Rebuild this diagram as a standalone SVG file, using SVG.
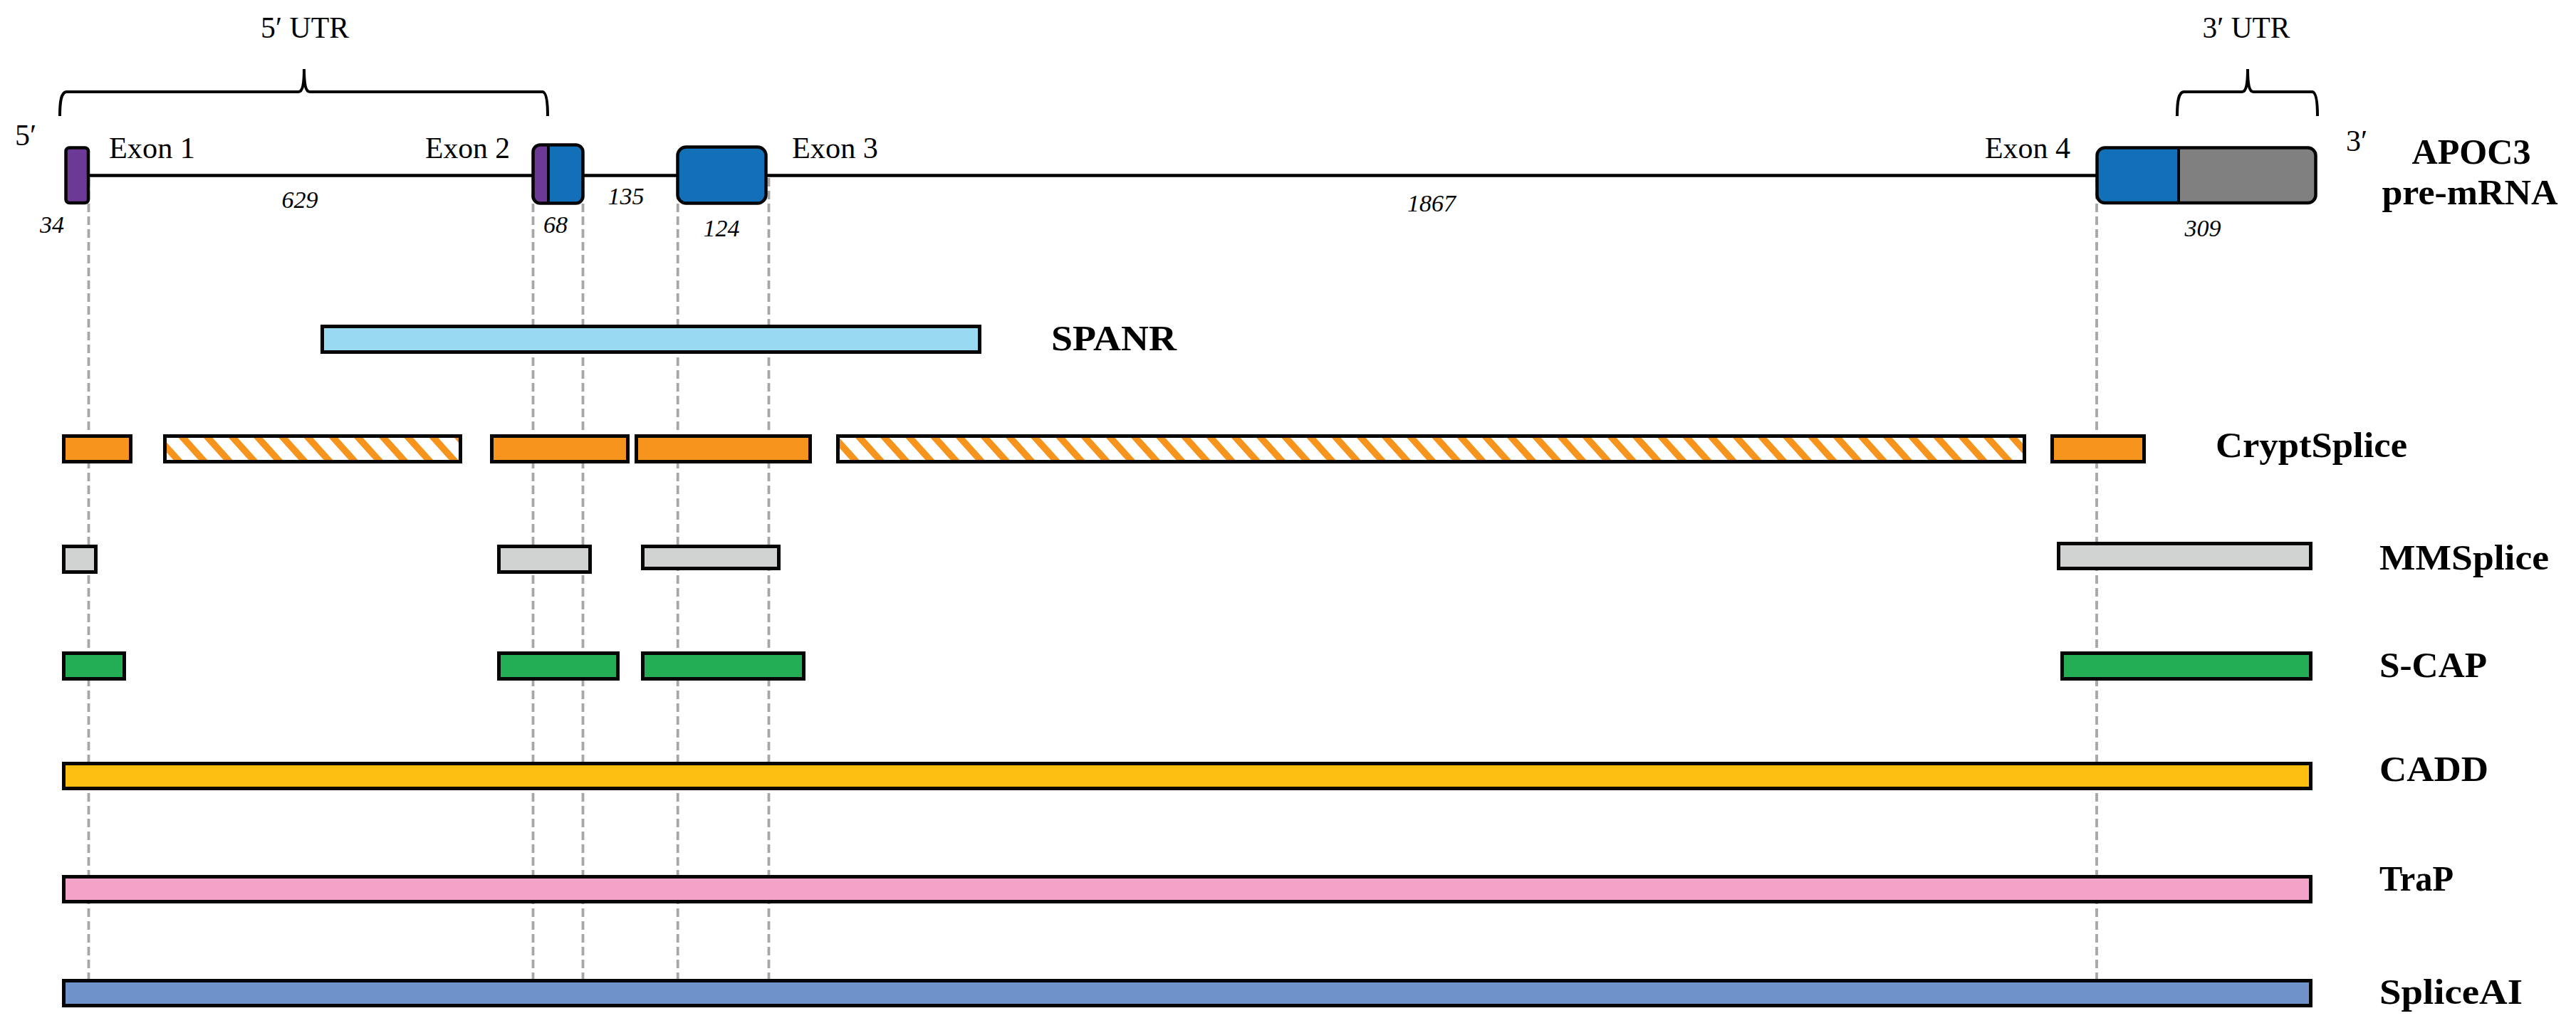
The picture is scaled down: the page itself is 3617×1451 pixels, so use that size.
<svg xmlns="http://www.w3.org/2000/svg" width="3617" height="1451" viewBox="0 0 3617 1451">
<style>
.reg{font-family:"Liberation Serif","Times New Roman",serif;font-size:42px;fill:#000}
.num{font-family:"Liberation Serif","Times New Roman",serif;font-size:34px;font-style:italic;fill:#000;text-anchor:middle}
.lbl{font-family:"Liberation Serif","Times New Roman",serif;font-size:50px;font-weight:bold;fill:#000}
.bar{stroke:#050505;stroke-width:5}
.exon{stroke:#050505;stroke-width:4.5}
.guide{stroke:#a7a7a7;stroke-width:3.8;stroke-dasharray:12 6;fill:none}
.brace{fill:none;stroke:#000;stroke-width:4}
</style>
<defs>
<pattern id="hatch" patternUnits="userSpaceOnUse" x="13.7" y="0" width="35.2" height="10" patternTransform="skewX(42)">
<rect x="0" y="0" width="35.2" height="10" fill="#ffffff"/>
<rect x="0" y="0" width="12.7" height="10" fill="#f7941d"/>
</pattern>
</defs>
<rect width="3617" height="1451" fill="#ffffff"/>

<g id="connectors">
<line class="guide" x1="124.5" y1="250" x2="124.5" y2="1378"/>
<line class="guide" x1="748.5" y1="250" x2="748.5" y2="1378"/>
<line class="guide" x1="818.5" y1="250" x2="818.5" y2="1378"/>
<line class="guide" x1="951.7" y1="250" x2="951.7" y2="1378"/>
<line class="guide" x1="1079.5" y1="250" x2="1079.5" y2="1378"/>
<line class="guide" x1="2944" y1="250" x2="2944" y2="1378"/>
<line x1="124" y1="246.5" x2="2945" y2="246.5" stroke="#000" stroke-width="4.5"/>
</g>

<g id="utr5">
<path class="brace" d="M84,163 C84,142 86,130 93,129 L419,129 C425,129 427,118 427,97 C427,118 429,129 435,129 L762,129 C767,130 769,142 769,163"/>
<text class="reg" x="428" y="53" text-anchor="middle" textLength="124" lengthAdjust="spacingAndGlyphs">5′ UTR</text>
</g>
<g id="utr3">
<path class="brace" d="M3057,163 C3057,142 3059,130 3066,129 L3148,129 C3154,129 3156,118 3156,97 C3156,118 3158,129 3164,129 L3247,129 C3252,130 3254,142 3254,163"/>
<text class="reg" x="3154" y="53" text-anchor="middle" textLength="123" lengthAdjust="spacingAndGlyphs">3′ UTR</text>
</g>

<g id="ends">
<text class="reg" x="21" y="204">5′</text>
<text class="reg" x="3294" y="212">3′</text>
</g>

<g id="exon1">
<rect class="exon" x="92.5" y="207.5" width="31.5" height="77.5" rx="5" fill="#6c3a96"/>
<text class="reg" x="153" y="222" textLength="121" lengthAdjust="spacingAndGlyphs">Exon 1</text>
<text class="num" x="73" y="327">34</text>
</g>
<text class="num" x="421" y="292">629</text>

<g id="exon2">
<rect x="748.5" y="203.5" width="70" height="82" rx="10" fill="#1170b8"/>
<path d="M770,203.5 L758.5,203.5 A10,10 0 0 0 748.5,213.5 L748.5,275.5 A10,10 0 0 0 758.5,285.5 L770,285.5 Z" fill="#6c3a96"/>
<line x1="770" y1="203.5" x2="770" y2="285.5" stroke="#050505" stroke-width="4"/>
<rect class="exon" x="748.5" y="203.5" width="70" height="82" rx="10" fill="none"/>
<text class="reg" x="597" y="222" textLength="119" lengthAdjust="spacingAndGlyphs">Exon 2</text>
<text class="num" x="780" y="327">68</text>
</g>
<text class="num" x="879" y="287">135</text>

<g id="exon3">
<rect class="exon" x="951.5" y="206.5" width="124" height="79" rx="12" fill="#1170b8"/>
<text class="reg" x="1112" y="222" textLength="121" lengthAdjust="spacingAndGlyphs">Exon 3</text>
<text class="num" x="1013" y="332">124</text>
</g>
<text class="num" x="2010" y="297">1867</text>

<g id="exon4">
<rect x="2944.5" y="207.5" width="307" height="77.5" rx="11" fill="#808080"/>
<path d="M3059,207.5 L2955.5,207.5 A11,11 0 0 0 2944.5,218.5 L2944.5,274 A11,11 0 0 0 2955.5,285 L3059,285 Z" fill="#1170b8"/>
<line x1="3059" y1="207.5" x2="3059" y2="285" stroke="#050505" stroke-width="4"/>
<rect class="exon" x="2944.5" y="207.5" width="307" height="77.5" rx="11" fill="none"/>
<text class="reg" x="2787" y="222" textLength="120" lengthAdjust="spacingAndGlyphs">Exon 4</text>
<text class="num" x="3093" y="332">309</text>
</g>

<g id="apoc3-label">
<text class="lbl" x="3470" y="230" text-anchor="middle" textLength="167" lengthAdjust="spacingAndGlyphs">APOC3</text>
<text class="lbl" x="3468" y="287" text-anchor="middle" textLength="247" lengthAdjust="spacingAndGlyphs">pre-mRNA</text>
</g>

<g id="spanr">
<rect class="bar" x="452.5" y="458.5" width="923" height="36" fill="#99d9f2"/>
<text class="lbl" x="1476" y="492" textLength="176" lengthAdjust="spacingAndGlyphs">SPANR</text>
</g>

<g id="cryptsplice">
<rect class="bar" x="89.5" y="612.5" width="94" height="36" fill="#f7941d"/>
<rect class="bar" x="231.5" y="612.5" width="415" height="36" fill="url(#hatch)"/>
<rect class="bar" x="690.5" y="612.5" width="191" height="36" fill="#f7941d"/>
<rect class="bar" x="893.5" y="612.5" width="244" height="36" fill="#f7941d"/>
<rect class="bar" x="1176.5" y="612.5" width="1666" height="36" fill="url(#hatch)"/>
<rect class="bar" x="2881.5" y="612.5" width="129" height="36" fill="#f7941d"/>
<text class="lbl" x="3111" y="642" textLength="269" lengthAdjust="spacingAndGlyphs">CryptSplice</text>
</g>

<g id="mmsplice">
<rect class="bar" x="89.5" y="767.5" width="45" height="36" fill="#d1d3d2"/>
<rect class="bar" x="700.5" y="767.5" width="128" height="36" fill="#d1d3d2"/>
<rect class="bar" x="902.5" y="767.5" width="191" height="31" fill="#d1d3d2"/>
<rect class="bar" x="2890.5" y="763.5" width="354" height="35" fill="#d1d3d2"/>
<text class="lbl" x="3341" y="800" textLength="238" lengthAdjust="spacingAndGlyphs">MMSplice</text>
</g>

<g id="scap">
<rect class="bar" x="89.5" y="917.5" width="85" height="36" fill="#23ae55"/>
<rect class="bar" x="700.5" y="917.5" width="167" height="36" fill="#23ae55"/>
<rect class="bar" x="902.5" y="917.5" width="226" height="36" fill="#23ae55"/>
<rect class="bar" x="2895.5" y="917.5" width="349" height="36" fill="#23ae55"/>
<text class="lbl" x="3341" y="951" textLength="151" lengthAdjust="spacingAndGlyphs">S-CAP</text>
</g>

<g id="cadd">
<rect class="bar" x="89.5" y="1072.5" width="3155" height="35" fill="#fdc010"/>
<text class="lbl" x="3341" y="1097" textLength="153" lengthAdjust="spacingAndGlyphs">CADD</text>
</g>

<g id="trap">
<rect class="bar" x="89.5" y="1231.5" width="3155" height="35" fill="#f2a3c7"/>
<text class="lbl" x="3341" y="1251" textLength="104" lengthAdjust="spacingAndGlyphs">TraP</text>
</g>

<g id="spliceai">
<rect class="bar" x="89.5" y="1377.5" width="3155" height="35" fill="#7092ca"/>
<text class="lbl" x="3341" y="1410" textLength="201" lengthAdjust="spacingAndGlyphs">SpliceAI</text>
</g>
</svg>
